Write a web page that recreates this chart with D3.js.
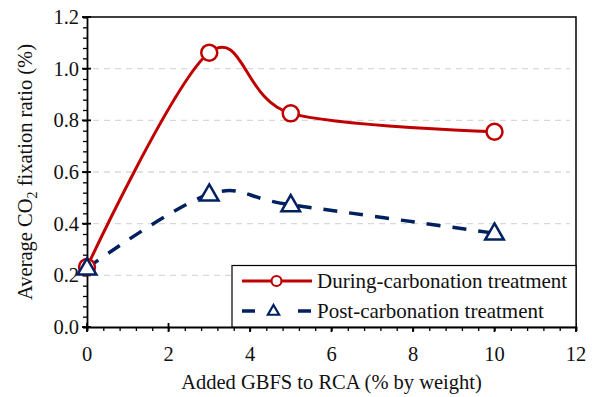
<!DOCTYPE html>
<html>
<head>
<meta charset="utf-8">
<script src="https://cdn.jsdelivr.net/npm/d3@7"></script>
<style>
  body { margin: 0; background: #fff; }
  text { font-family: "Liberation Serif", "Times New Roman", serif; fill: #111; }
</style>
</head>
<body>
<script>
const gbfs = [0, 3, 5, 10]
const during = [0.232, 1.062, 0.827, 0.756]
const post = [0.228, 0.514, 0.473, 0.363]
const xTicks = [0, 2, 4, 6, 8, 10, 12]
const yTicks = [0, 0.2, 0.4, 0.6, 0.8, 1.0, 1.2]
const seriesNames = ['During-carbonation treatment', 'Post-carbonation treatment']

const w = 592
const h = 397
const m = { left: 87, right: 16, top: 17, bottom: 70 }
const red = '#c00000'
const blue = '#002060'
const fs = '20.5px'

const svg = d3.select('body').append('svg')
    .attr('width', w)
    .attr('height', h)

const x = d3.scaleLinear().domain([0, 12]).range([m.left, w - m.right])
const y = d3.scaleLinear().domain([0, 1.2]).range([h - m.bottom, m.top])

// grid
svg.append('g')
    .selectAll('line')
    .data(yTicks.filter(d => d > 0 && d < 1.2))
    .enter()
    .append('line')
    .attr('x1', x(0) + 6)
    .attr('x2', x(12) - 6)
    .attr('y1', d => y(d))
    .attr('y2', d => y(d))
    .attr('stroke', '#d9d9d9')
    .attr('stroke-width', 1.3)
    .attr('stroke-dasharray', '6,5')

// frame top / right
svg.append('path')
    .attr('d', `M${x(0)},${y(1.2)}H${x(12)}V${y(0)}`)
    .attr('fill', 'none')
    .attr('stroke', '#000')
    .attr('stroke-width', 1.5)

// axes
const xAxis = d3.axisBottom(x)
    .tickValues(d3.range(0, 12.01, 0.4))
    .tickSize(4)
    .tickFormat('')
const xg = svg.append('g')
    .attr('transform', `translate(0, ${y(0)})`)
    .call(xAxis)
xg.select('.domain').attr('stroke-width', 1.8)
xg.selectAll('.tick line').attr('stroke-width', 1.3)

const xMajor = svg.append('g')
    .selectAll('g')
    .data(xTicks)
    .enter()
    .append('g')
    .attr('transform', d => `translate(${x(d)}, ${y(0)})`)
xMajor.append('line').attr('y1', -4).attr('y2', 5).attr('stroke', '#000').attr('stroke-width', 1.8)
xMajor.append('text')
    .attr('y', 34)
    .attr('text-anchor', 'middle')
    .style('font-size', fs)
    .text(d => d)

const yAxis = d3.axisLeft(y)
    .tickValues(d3.range(0, 1.2001, 0.04))
    .tickSize(4)
    .tickFormat('')
const yg = svg.append('g')
    .attr('transform', `translate(${x(0)}, 0)`)
    .call(yAxis)
yg.select('.domain').attr('stroke-width', 1.8)
yg.selectAll('.tick line').attr('stroke-width', 1.3)

const yMajor = svg.append('g')
    .selectAll('g')
    .data(yTicks)
    .enter()
    .append('g')
    .attr('transform', d => `translate(${x(0)}, ${y(d)})`)
yMajor.append('line').attr('x1', -5).attr('x2', 4).attr('stroke', '#000').attr('stroke-width', 1.8)
yMajor.append('text')
    .attr('x', -8)
    .attr('dy', '0.34em')
    .attr('text-anchor', 'end')
    .style('font-size', fs)
    .text(d => d.toFixed(1))

// axis labels
svg.append('text')
    .attr('x', (x(0) + x(12)) / 2)
    .attr('y', 389)
    .attr('text-anchor', 'middle')
    .style('font-size', fs)
    .text('Added GBFS to RCA (% by weight)')

const yl = svg.append('text')
    .attr('transform', `translate(32, ${(y(0) + y(1.2)) / 2}) rotate(-90)`)
    .attr('text-anchor', 'middle')
    .style('font-size', fs)
yl.append('tspan').text('Average CO')
yl.append('tspan').attr('dy', 5).style('font-size', '14px').text('2')
yl.append('tspan').attr('dy', -5).text(' fixation ratio (%)')

// lines
const line = d3.line()
    .x((d, i) => x(gbfs[i]))
    .y(d => y(d))
    .curve(d3.curveCardinal.tension(0))

svg.append('path')
    .datum(post)
    .attr('d', line)
    .attr('fill', 'none')
    .attr('stroke', blue)
    .attr('stroke-width', 3.5)
    .attr('stroke-dasharray', '14,12')

svg.append('path')
    .datum(during)
    .attr('d', line)
    .attr('fill', 'none')
    .attr('stroke', red)
    .attr('stroke-width', 3)

const tri = d3.symbol().type(d3.symbolTriangle)

svg.append('g')
    .selectAll('circle')
    .data(during)
    .enter()
    .append('circle')
    .attr('cx', (d, i) => x(gbfs[i]))
    .attr('cy', d => y(d))
    .attr('r', 8)
    .attr('fill', '#fff')
    .attr('stroke', red)
    .attr('stroke-width', 2.5)

svg.append('g')
    .selectAll('path')
    .data(post)
    .enter()
    .append('path')
    .attr('d', tri.size(150))
    .attr('transform', (d, i) => `translate(${x(gbfs[i])}, ${y(d) + 1})`)
    .attr('fill', '#fff')
    .attr('stroke', blue)
    .attr('stroke-width', 2.5)

// legend
const lg = svg.append('g')
lg.append('rect')
    .attr('x', 232)
    .attr('y', 265.5)
    .attr('width', x(12) - 232)
    .attr('height', y(0) - 265.5)
    .attr('fill', '#fff')
    .attr('stroke', '#000')
    .attr('stroke-width', 1.2)

const entries = lg.selectAll('g.entry')
    .data(seriesNames)
    .enter()
    .append('g')
    .attr('class', 'entry')
    .attr('transform', (d, i) => `translate(0, ${281 + i * 30})`)

entries.append('line')
    .attr('x1', 242)
    .attr('x2', 312)
    .attr('stroke', (d, i) => i === 0 ? red : blue)
    .attr('stroke-width', (d, i) => i === 0 ? 3 : 3.5)
    .attr('stroke-dasharray', (d, i) => i === 0 ? null : '13,43')

entries.filter((d, i) => i === 0)
    .append('circle')
    .attr('cx', 276.5)
    .attr('r', 5)
    .attr('fill', '#fff')
    .attr('stroke', red)
    .attr('stroke-width', 2.2)

entries.filter((d, i) => i === 1)
    .append('path')
    .attr('d', tri.size(55))
    .attr('transform', 'translate(273.5, 0.5)')
    .attr('fill', '#fff')
    .attr('stroke', blue)
    .attr('stroke-width', 2.2)

entries.append('text')
    .attr('x', 317)
    .attr('dy', '0.34em')
    .style('font-size', '21px')
    .text(d => d)
</script>
</body>
</html>
